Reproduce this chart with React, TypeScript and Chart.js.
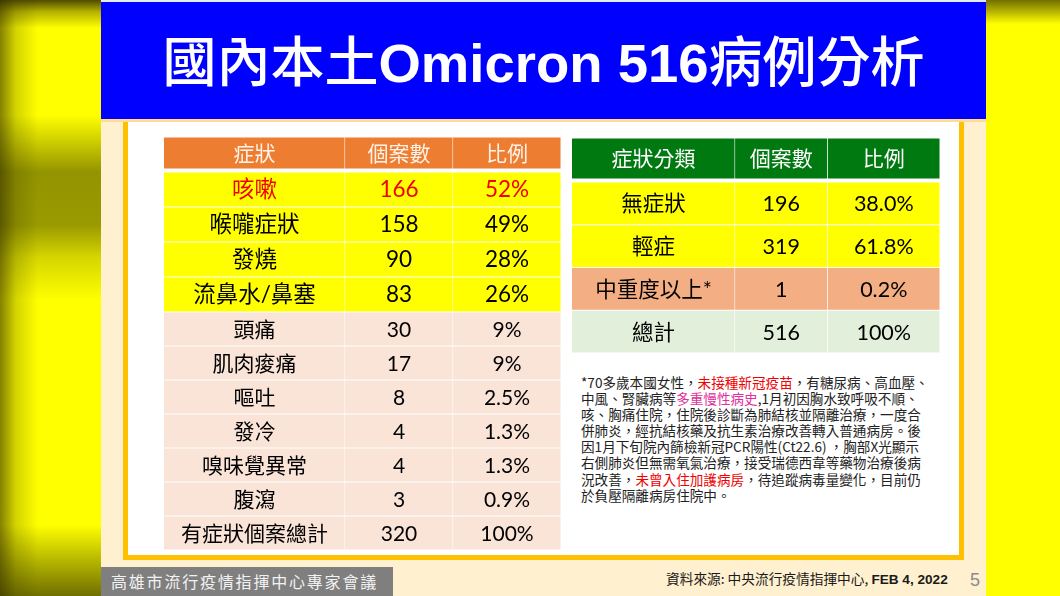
import React, { useEffect, useRef } from "react";
import { Chart, registerables } from "chart.js";

Chart.register(...registerables);

const titleCjkA = "國內本土";
const titleLatin = "Omicron 516";
const titleCjkB = "病例分析";

const symptomHeader = ["症狀", "個案數", "比例"];
const mainSymptomNames = ["咳嗽", "喉嚨症狀", "發燒", "流鼻水/鼻塞"];
const mainSymptomCounts = ["166", "158", "90", "83"];
const mainSymptomRates = ["52%", "49%", "28%", "26%"];
const otherSymptomNames = ["頭痛", "肌肉痠痛", "嘔吐", "發冷", "嗅味覺異常", "腹瀉", "有症狀個案總計"];
const otherSymptomCounts = ["30", "17", "8", "4", "4", "3", "320"];
const otherSymptomRates = ["9%", "9%", "2.5%", "1.3%", "1.3%", "0.9%", "100%"];

const severityHeader = ["症狀分類", "個案數", "比例"];
const severityNames = ["無症狀", "輕症", "中重度以上*", "總計"];
const severityCounts = ["196", "319", "1", "516"];
const severityRates = ["38.0%", "61.8%", "0.2%", "100%"];

const noteLines: [string, string?][][] = [
  [["*70多歲本國女性，"], ["未接種新冠疫苗", "#f00000"], ["，有糖尿病、高血壓、"]],
  [["中風、腎臟病等"], ["多重慢性病史", "#e0309a"], [",1月初因胸水致呼吸不順、"]],
  [["咳、胸痛住院，住院後診斷為肺結核並隔離治療，一度合"]],
  [["併肺炎，經抗結核藥及抗生素治療改善轉入普通病房。後"]],
  [["因1月下旬院內篩檢新冠PCR陽性(Ct22.6) ，胸部X光顯示"]],
  [["右側肺炎但無需氧氣治療，接受瑞德西韋等藥物治療後病"]],
  [["況改善，"], ["未曾入住加護病房", "#f00000"], ["，待追蹤病毒量變化，目前仍"]],
  [["於負壓隔離病房住院中。"]],
];

const footerLeft = "高雄市流行疫情指揮中心專家會議";
const footerCjk = "資料來源: 中央流行疫情指揮中心, ";
const footerDate = "FEB 4, 2022";
const pageNumber = "5";

const CJK = '"Noto Sans CJK TC"';

type TableProps = {
  left: number;
  top: number;
  width: number;
  height: number;
  columns: string[][];
  weights: number[];
  fills: string[];
  inks: string[];
  fontSize: number;
  textShift?: number;
};

function TableChart({ left, top, width, height, columns, weights, fills, inks, fontSize, textShift = 1 }: TableProps) {
  const ref = useRef<HTMLCanvasElement | null>(null);
  useEffect(() => {
    if (!ref.current) return;
    const cellText = {
      id: "cellText",
      afterDatasetsDraw(chart: any) {
        const ctx = chart.ctx;
        ctx.save();
        ctx.textAlign = "center";
        ctx.textBaseline = "middle";
        ctx.font = `${fontSize}px Lato, ${CJK}`;
        columns.forEach((col, c) => {
          const bars = chart.getDatasetMeta(c).data;
          col.forEach((txt, r) => {
            const b = bars[r];
            ctx.fillStyle = inks[r];
            ctx.fillText(txt, b.base + (b.x - b.base) / 2, b.y + textShift);
          });
        });
        ctx.restore();
      },
    };
    const total = weights.reduce((a, b) => a + b, 0);
    const chart = new Chart(ref.current, {
      type: "bar",
      data: {
        labels: columns[0],
        datasets: columns.map((col, c) => ({
          label: `col${c}`,
          data: col.map(() => weights[c]),
          backgroundColor: fills,
          borderColor: "rgba(255,255,255,0.8)",
          borderWidth: 0.8,
          categoryPercentage: 1,
          barPercentage: 1,
        })),
      },
      options: {
        indexAxis: "y",
        animation: false,
        responsive: false,
        layout: { padding: 0 },
        plugins: { legend: { display: false }, tooltip: { enabled: false }, title: { display: false } },
        scales: {
          x: { stacked: true, display: false, min: 0, max: total },
          y: { stacked: true, display: false },
        },
      },
      plugins: [cellText],
    } as any);
    return () => chart.destroy();
  }, []);
  return <canvas ref={ref} width={width} height={height} style={{ position: "absolute", left, top, display: "block" }} />;
}

const abs = (l: number, t: number, w: number, h: number, extra: React.CSSProperties = {}): React.CSSProperties => ({
  position: "absolute",
  left: l,
  top: t,
  width: w,
  height: h,
  ...extra,
});

export default function App() {
  const mainInks = mainSymptomNames.map((_, i) => (i === 0 ? "#f00000" : "#000000"));
  const mainFills = mainSymptomNames.map(() => "#ffff00");
  const otherInks = otherSymptomNames.map(() => "#000000");
  const otherFills = otherSymptomNames.map(() => "#fae4d8");
  const rightInks = severityNames.map(() => "#000000");
  const rightFills = ["#ffff00", "#ffff00", "#f4ae84", "#e2efda"];
  const leftWeights = [181, 108, 108];
  const rightWeights = [163, 92.5, 112.5];
  return (
    <div style={abs(0, 0, 1060, 596, { position: "fixed", overflow: "hidden", background: "#ffff00", fontFamily: `Lato, ${CJK}` })}>
      <div
        style={abs(0, 0, 101, 596, {
          background: [
            "linear-gradient(to right, rgba(50,45,0,0.6) 0px, rgba(60,60,0,0.22) 16px, rgba(0,0,0,0) 38px)",
            "linear-gradient(to bottom, rgba(70,65,0,0.95) 0px, rgba(70,65,0,0.4) 12px, rgba(70,65,0,0) 28px)",
            "linear-gradient(to bottom, rgba(0,0,0,0) 115px, rgba(70,70,0,0.25) 140px, rgba(70,70,0,0.58) 172px, rgba(70,70,0,0.55) 225px, rgba(70,70,0,0.22) 258px, rgba(0,0,0,0) 300px)",
            "linear-gradient(to bottom, rgba(0,0,0,0) 525px, rgba(50,50,0,0.4) 565px, rgba(50,50,0,0.7) 596px)",
          ].join(","),
        })}
      />
      <div
        style={abs(986, 0, 74, 596, {
          background: "linear-gradient(to bottom, rgba(90,85,0,0.85) 0px, rgba(120,110,0,0) 24px)",
        })}
      />
      <div style={abs(101, 0, 885, 596, { background: "#fff0cf" })} />
      <div style={abs(101, 0, 885, 2, { background: "#e8e8f0" })} />
      <div style={abs(101, 2, 885, 117, { background: "#0000ff" })} />
      <div style={abs(101, 119, 885, 3, { background: "#ffdc90" })} />
      <div style={abs(123, 122, 841, 438, { background: "#ffffff", border: "5px solid #ffc000", borderTop: "none", boxSizing: "border-box" })} />
      <div
        style={abs(101, 16, 885, 90, {
          color: "#ffffff",
          textAlign: "center",
          whiteSpace: "nowrap",
          lineHeight: "86px",
        })}
      >
        <span style={{ fontFamily: CJK, fontSize: 54, fontWeight: 500 }}>{titleCjkA}</span>
        <span style={{ fontFamily: '"Liberation Sans"', fontSize: 54.5, fontWeight: 700 }}>{titleLatin}</span>
        <span style={{ fontFamily: CJK, fontSize: 54, fontWeight: 500 }}>{titleCjkB}</span>
      </div>

      <TableChart left={164} top={137} width={397} height={32} columns={symptomHeader.map((h) => [h])} weights={leftWeights} fills={["#ed7d31"]} inks={["#fff2e8"]} fontSize={21} />
      <TableChart left={164} top={172} width={397} height={140} columns={[mainSymptomNames, mainSymptomCounts, mainSymptomRates]} weights={leftWeights} fills={mainFills} inks={mainInks} fontSize={22.5} textShift={0} />
      <TableChart left={164} top={312} width={397} height={238} columns={[otherSymptomNames, otherSymptomCounts, otherSymptomRates]} weights={leftWeights} fills={otherFills} inks={otherInks} fontSize={21} />

      <TableChart left={572} top={138} width={368} height={41} columns={severityHeader.map((h) => [h])} weights={rightWeights} fills={["#007a10"]} inks={["#ffffff"]} fontSize={21} />
      <TableChart left={572} top={182} width={368} height={171} columns={[severityNames, severityCounts, severityRates]} weights={rightWeights} fills={rightFills} inks={rightInks} fontSize={21.5} />

      <div style={abs(581, 374, 372, 132, { fontFamily: CJK, fontSize: 13.6, color: "#222222", whiteSpace: "nowrap", fontWeight: 400 })}>
        {noteLines.map((line, i) => (
          <div key={i} style={{ height: 16.1, lineHeight: "16px" }}>
            {line.map((seg, j) => (
              <span key={j} style={{ color: seg[1] ?? undefined }}>{seg[0]}</span>
            ))}
          </div>
        ))}
      </div>

      <div style={abs(101, 567, 292, 29, { background: "#7f7f7f" })} />
      <div style={abs(111, 567, 282, 29, { color: "#f2f2f2", fontFamily: CJK, fontSize: 16, letterSpacing: 1.8, lineHeight: "29px", whiteSpace: "nowrap" })}>{footerLeft}</div>
      <div style={abs(666, 568, 290, 20, { color: "#1a1a1a", lineHeight: "20px", whiteSpace: "nowrap" })}>
        <span style={{ fontFamily: CJK, fontSize: 13.7, fontWeight: 400 }}>{footerCjk}</span>
        <span style={{ fontFamily: '"Liberation Sans"', fontSize: 13.6, fontWeight: 700 }}>{footerDate}</span>
      </div>
      <div style={abs(970, 568, 16, 24, { color: "#8c8c8c", fontFamily: '"Liberation Sans"', fontSize: 18, lineHeight: "24px" })}>{pageNumber}</div>
    </div>
  );
}
